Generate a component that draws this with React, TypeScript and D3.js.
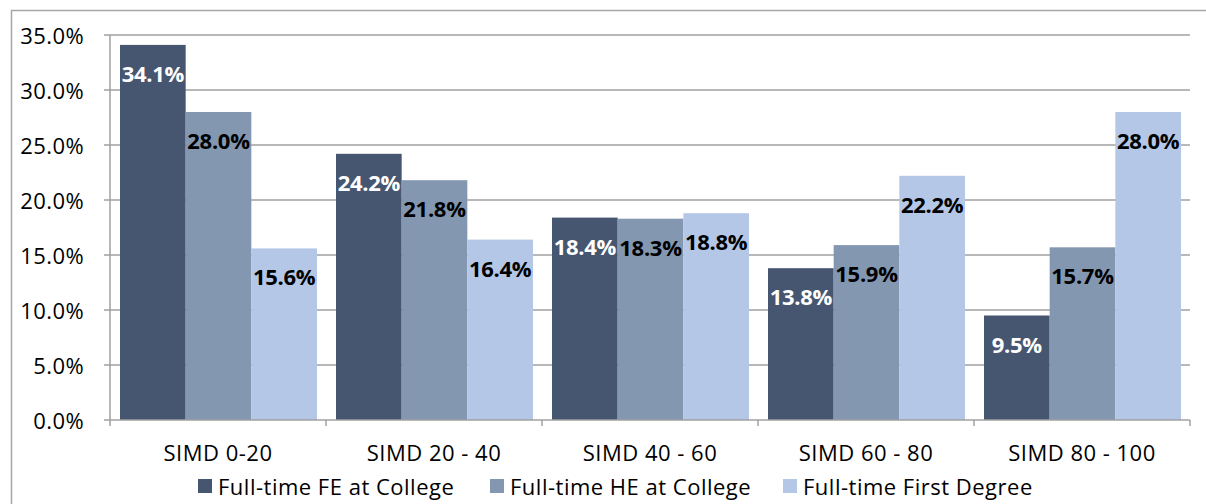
import React from "react";
import * as d3 from "d3";

const categories = ["SIMD 0-20", "SIMD 20 - 40", "SIMD 40 - 60", "SIMD 60 - 80", "SIMD 80 - 100"];
const seriesNames = ["Full-time FE at College", "Full-time HE at College", "Full-time First Degree"];
const feValues = [34.1, 24.2, 18.4, 13.8, 9.5];
const heValues = [28.0, 21.8, 18.3, 15.9, 15.7];
const fdValues = [15.6, 16.4, 18.8, 22.2, 28.0];
const yTicks = [0, 5, 10, 15, 20, 25, 30, 35];

const colors = ["#465670", "#8497B0", "#B4C7E7"];
const labelColors = ["#ffffff", "#000000", "#000000"];
const FONT = "'Open Sans', Lato, sans-serif";

export default function App() {
  const W = 1206, H = 504;
  const left = 110, right = 1190, top = 35, bottom = 420;
  const series = [feValues, heValues, fdValues];

  const x0 = d3.scaleBand<string>().domain(categories).range([left, right]).paddingInner(0).paddingOuter(0);
  const x1 = d3.scaleBand<number>().domain([0, 1, 2]).range([10, x0.bandwidth() - 9]).padding(0);
  const y = d3.scaleLinear().domain([0, 35]).range([bottom, top]);

  const legendX = [198, 490, 783];

  return (
    <div style={{ position: "absolute", left: 0, top: 0 }}>
      <svg width={W} height={H} style={{ display: "block", background: "#fff" }}>
        <rect x={11.5} y={10.5} width={1200} height={500} fill="#fff" stroke="#a6a6a6" strokeWidth={1.5} />
        {yTicks.map((t) => (
          <g key={t}>
            {t > 0 && <line x1={left} x2={right} y1={y(t)} y2={y(t)} stroke="#a0a0a0" strokeWidth={1.5} />}
            <line x1={left - 6} x2={left} y1={y(t)} y2={y(t)} stroke="#a0a0a0" strokeWidth={1.5} />
            <text x={84} y={y(t)} textAnchor="end" dominantBaseline="central" fontFamily={FONT} fontSize={22} letterSpacing={0.4} fill="#000">
              {t.toFixed(1) + "%"}
            </text>
          </g>
        ))}
        {categories.map((c, ci) => (
          <g key={c}>
            {series.map((s, si) => {
              const bx = (x0(c) as number) + (x1(si) as number);
              const bw = x1.bandwidth();
              return (
                <g key={si}>
                  <rect x={bx} y={y(s[ci])} width={bw} height={bottom - y(s[ci])} fill={colors[si]} />
                </g>
              );
            })}
          </g>
        ))}
        <line x1={left} x2={left} y1={top} y2={bottom + 6} stroke="#a0a0a0" strokeWidth={1.5} />
        <line x1={left} x2={right} y1={bottom} y2={bottom} stroke="#a0a0a0" strokeWidth={1.5} />
        {categories.map((c, ci) => (
          <line key={"t" + ci} x1={(x0(c) as number) + x0.bandwidth()} x2={(x0(c) as number) + x0.bandwidth()} y1={bottom} y2={bottom + 6} stroke="#a0a0a0" strokeWidth={1.5} />
        ))}
        {categories.map((c, ci) => (
          <g key={"l" + ci}>
            {series.map((s, si) => {
              const bx = (x0(c) as number) + (x1(si) as number);
              const bw = x1.bandwidth();
              return (
                <text key={si} x={bx + bw / 2} y={y(s[ci]) + 28} textAnchor="middle" dominantBaseline="central" fontFamily={FONT} fontWeight="bold" fontSize={22} letterSpacing={-0.3} fill={labelColors[si]}>
                  {s[ci].toFixed(1) + "%"}
                </text>
              );
            })}
            <text x={(x0(c) as number) + x0.bandwidth() / 2} y={452} textAnchor="middle" dominantBaseline="central" fontFamily={FONT} fontSize={22} letterSpacing={0.5} fill="#000">
              {c}
            </text>
          </g>
        ))}
        {seriesNames.map((n, i) => (
          <g key={n}>
            <rect x={legendX[i]} y={479} width={14} height={14} fill={colors[i]} />
            <text x={legendX[i] + 20} y={486} dominantBaseline="central" fontFamily={FONT} fontSize={22} letterSpacing={0.5} fill="#000">
              {n}
            </text>
          </g>
        ))}
      </svg>
    </div>
  );
}
